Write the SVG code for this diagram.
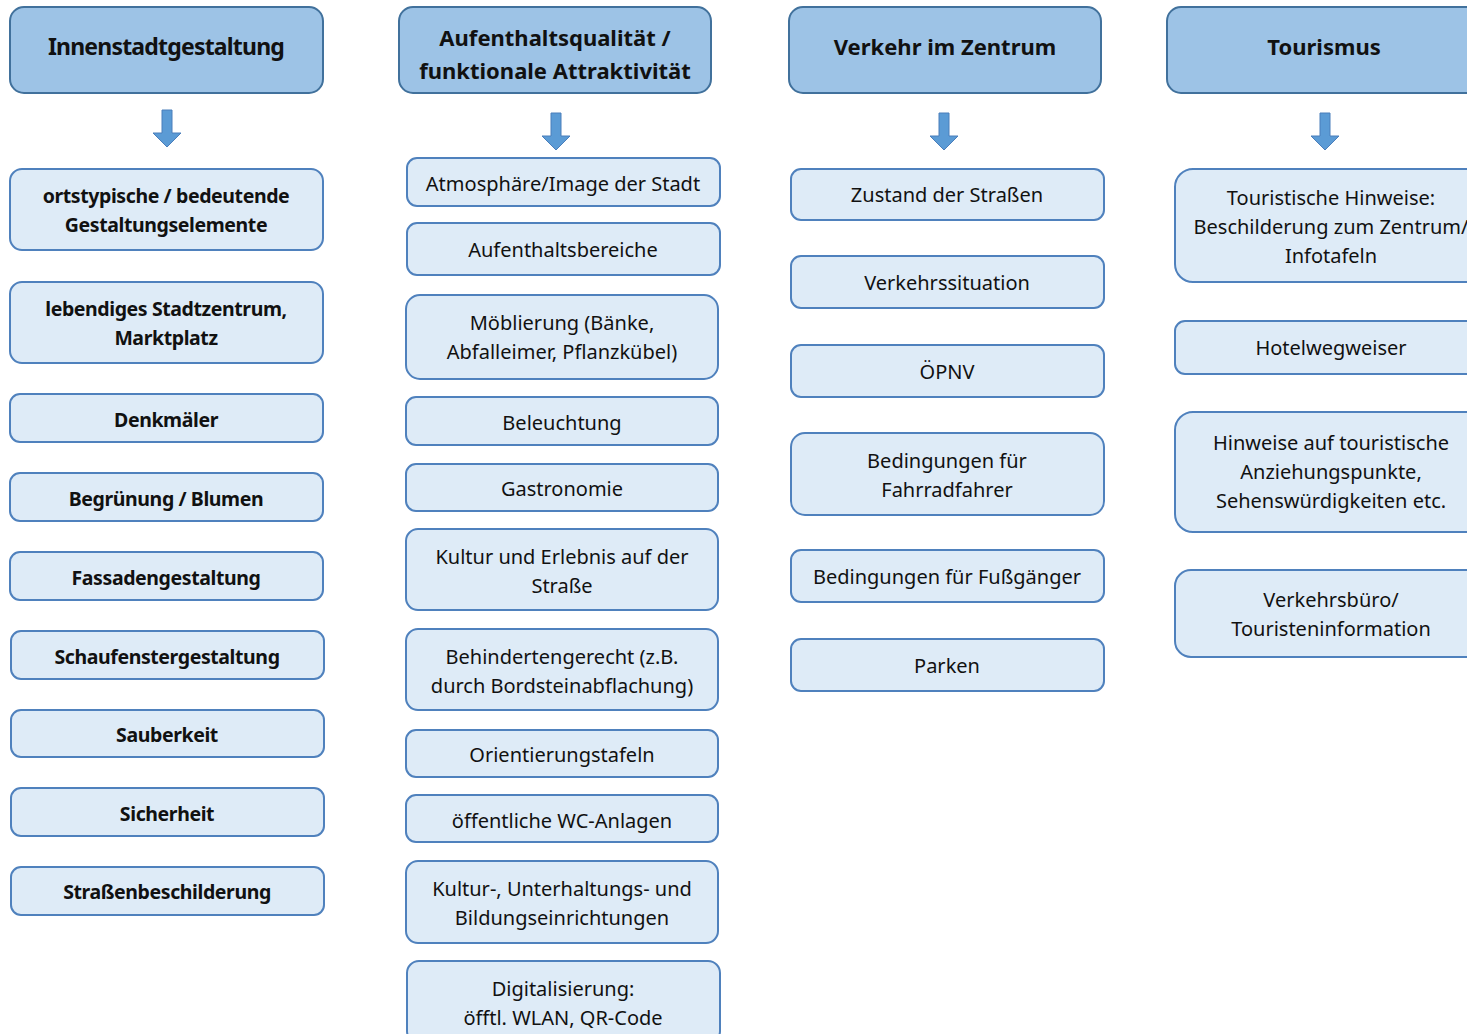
<svg xmlns="http://www.w3.org/2000/svg" width="1467" height="1034" viewBox="0 0 1467 1034">
<defs>
<style>
.hdr{fill:#9dc3e6;stroke:#41719c;stroke-width:2}
.box{fill:#deebf7;stroke:#4f81bd;stroke-width:2}
.arr{fill:#5b9bd5;stroke:#4a7ebb;stroke-width:1}
text{font-family:"Noto Sans","Open Sans",sans-serif;fill:#111111;text-anchor:middle;dominant-baseline:central}
.h{font-size:22px;font-weight:bold}
.t{font-size:20px}
.b{font-size:19.5px;font-weight:bold;letter-spacing:-0.4px}
</style>
<path id="arrow" d="M-5,0 H5 V23 H14 L0,37 L-14,23 H-5 Z"/>
</defs>
<rect width="1467" height="1034" fill="#ffffff"/>
<g id="connectors">
<use href="#arrow" class="arr" x="167" y="110"/>
<use href="#arrow" class="arr" x="556" y="113"/>
<use href="#arrow" class="arr" x="944" y="113"/>
<use href="#arrow" class="arr" x="1325" y="113"/>
</g>
<g id="h1"><rect class="hdr" x="10" y="7" width="313" height="86" rx="14"/><text class="h" x="166" y="46" style="font-size:23px;letter-spacing:-0.8px">Innenstadtgestaltung</text></g>
<g id="h2"><rect class="hdr" x="399" y="7" width="312" height="86" rx="14"/><text class="h" x="555" y="37">Aufenthaltsqualität /</text><text class="h" x="555" y="70">funktionale Attraktivität</text></g>
<g id="h3"><rect class="hdr" x="789" y="7" width="312" height="86" rx="14"/><text class="h" x="945" y="46">Verkehr im Zentrum</text></g>
<g id="h4"><rect class="hdr" x="1167" y="7" width="320" height="86" rx="14"/><text class="h" x="1324" y="46">Tourismus</text></g>

<g id="c1n1"><rect class="box" x="10" y="169" width="313" height="81" rx="12"/><text class="b" x="166" y="195">ortstypische / bedeutende</text><text class="b" x="166" y="224">Gestaltungselemente</text></g>
<g id="c1n2"><rect class="box" x="10" y="282" width="313" height="81" rx="12"/><text class="b" x="166" y="308">lebendiges Stadtzentrum,</text><text class="b" x="166" y="337">Marktplatz</text></g>
<g id="c1n3"><rect class="box" x="10" y="394" width="313" height="48" rx="10"/><text class="b" x="166" y="419">Denkmäler</text></g>
<g id="c1n4"><rect class="box" x="10" y="473" width="313" height="48" rx="10"/><text class="b" x="166" y="498">Begrünung / Blumen</text></g>
<g id="c1n5"><rect class="box" x="10" y="552" width="313" height="48" rx="10"/><text class="b" x="166" y="577">Fassadengestaltung</text></g>
<g id="c1n6"><rect class="box" x="11" y="631" width="313" height="48" rx="10"/><text class="b" x="167" y="656">Schaufenstergestaltung</text></g>
<g id="c1n7"><rect class="box" x="11" y="710" width="313" height="47" rx="10"/><text class="b" x="167" y="734">Sauberkeit</text></g>
<g id="c1n8"><rect class="box" x="11" y="788" width="313" height="48" rx="10"/><text class="b" x="167" y="813">Sicherheit</text></g>
<g id="c1n9"><rect class="box" x="11" y="867" width="313" height="48" rx="10"/><text class="b" x="167" y="891">Straßenbeschilderung</text></g>

<g id="c2n1"><rect class="box" x="407" y="158" width="313" height="48" rx="10"/><text class="t" x="563" y="183">Atmosphäre/Image der Stadt</text></g>
<g id="c2n2"><rect class="box" x="407" y="223" width="313" height="52" rx="10"/><text class="t" x="563" y="249">Aufenthaltsbereiche</text></g>
<g id="c2n3"><rect class="box" x="406" y="295" width="312" height="84" rx="14"/><text class="t" x="562" y="322">Möblierung (Bänke,</text><text class="t" x="562" y="351">Abfalleimer, Pflanzkübel)</text></g>
<g id="c2n4"><rect class="box" x="406" y="397" width="312" height="48" rx="10"/><text class="t" x="562" y="422">Beleuchtung</text></g>
<g id="c2n5"><rect class="box" x="406" y="464" width="312" height="47" rx="10"/><text class="t" x="562" y="488">Gastronomie</text></g>
<g id="c2n6"><rect class="box" x="406" y="529" width="312" height="81" rx="12"/><text class="t" x="562" y="556">Kultur und Erlebnis auf der</text><text class="t" x="562" y="585">Straße</text></g>
<g id="c2n7"><rect class="box" x="406" y="629" width="312" height="81" rx="12"/><text class="t" x="562" y="656">Behindertengerecht (z.B.</text><text class="t" x="562" y="685">durch Bordsteinabflachung)</text></g>
<g id="c2n8"><rect class="box" x="406" y="730" width="312" height="47" rx="10"/><text class="t" x="562" y="754">Orientierungstafeln</text></g>
<g id="c2n9"><rect class="box" x="406" y="795" width="312" height="47" rx="10"/><text class="t" x="562" y="820">öffentliche WC-Anlagen</text></g>
<g id="c2n10"><rect class="box" x="406" y="861" width="312" height="82" rx="12"/><text class="t" x="562" y="888">Kultur-, Unterhaltungs- und</text><text class="t" x="562" y="917">Bildungseinrichtungen</text></g>
<g id="c2n11"><rect class="box" x="407" y="961" width="313" height="82" rx="12"/><text class="t" x="563" y="988">Digitalisierung:</text><text class="t" x="563" y="1017">öfftl. WLAN, QR-Code</text></g>

<g id="c3n1"><rect class="box" x="791" y="169" width="313" height="51" rx="10"/><text class="t" x="947" y="194">Zustand der Straßen</text></g>
<g id="c3n2"><rect class="box" x="791" y="256" width="313" height="52" rx="10"/><text class="t" x="947" y="282">Verkehrssituation</text></g>
<g id="c3n3"><rect class="box" x="791" y="345" width="313" height="52" rx="10"/><text class="t" x="947" y="371">ÖPNV</text></g>
<g id="c3n4"><rect class="box" x="791" y="433" width="313" height="82" rx="14"/><text class="t" x="947" y="460">Bedingungen für</text><text class="t" x="947" y="489">Fahrradfahrer</text></g>
<g id="c3n5"><rect class="box" x="791" y="550" width="313" height="52" rx="10"/><text class="t" x="947" y="576">Bedingungen für Fußgänger</text></g>
<g id="c3n6"><rect class="box" x="791" y="639" width="313" height="52" rx="10"/><text class="t" x="947" y="665">Parken</text></g>

<g id="c4n1"><rect class="box" x="1175" y="169" width="310" height="113" rx="18"/><text class="t" x="1331" y="197">Touristische Hinweise:</text><text class="t" x="1331" y="226">Beschilderung zum Zentrum/</text><text class="t" x="1331" y="255">Infotafeln</text></g>
<g id="c4n2"><rect class="box" x="1175" y="321" width="310" height="53" rx="10"/><text class="t" x="1331" y="347">Hotelwegweiser</text></g>
<g id="c4n3"><rect class="box" x="1175" y="412" width="310" height="120" rx="18"/><text class="t" x="1331" y="442">Hinweise auf touristische</text><text class="t" x="1331" y="471">Anziehungspunkte,</text><text class="t" x="1331" y="500">Sehenswürdigkeiten etc.</text></g>
<g id="c4n4"><rect class="box" x="1175" y="570" width="310" height="87" rx="16"/><text class="t" x="1331" y="599">Verkehrsbüro/</text><text class="t" x="1331" y="628">Touristeninformation</text></g>
</svg>
